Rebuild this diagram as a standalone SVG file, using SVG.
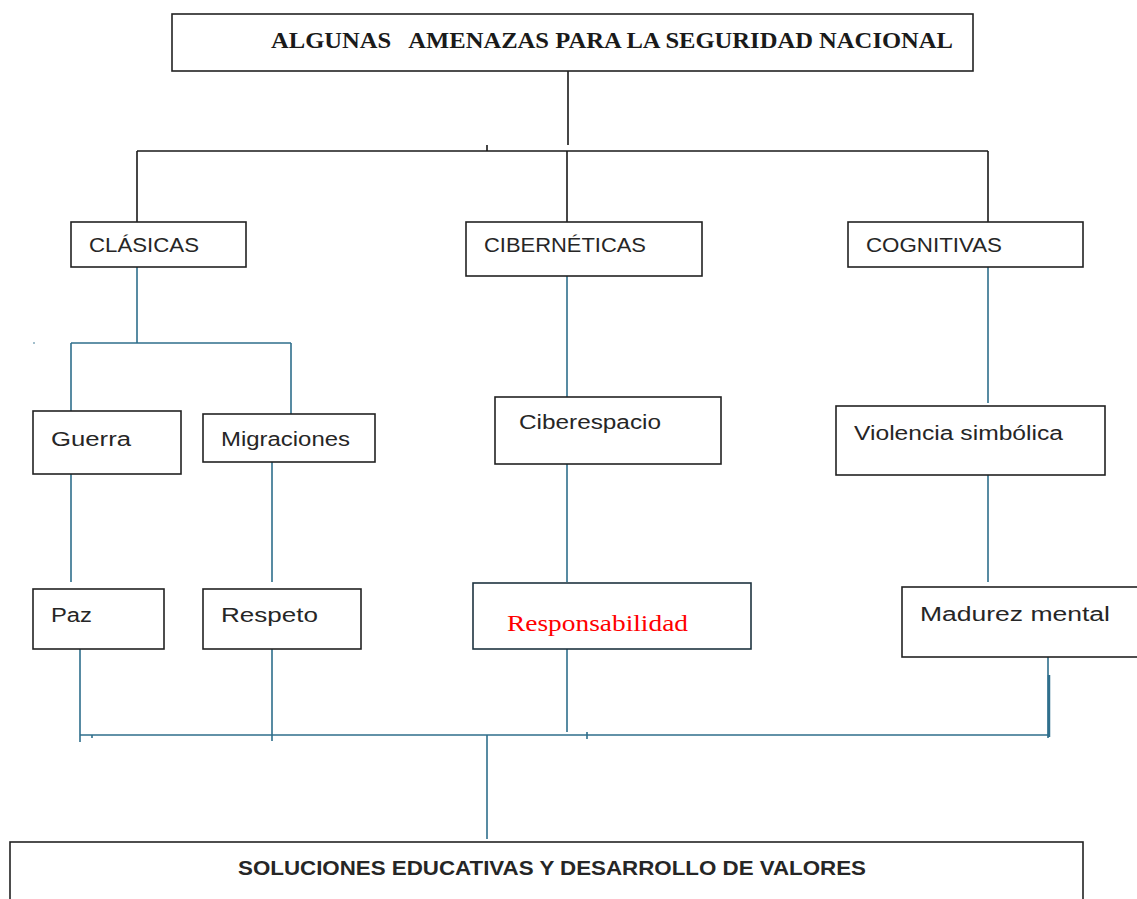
<svg xmlns="http://www.w3.org/2000/svg" width="1137" height="899" viewBox="0 0 1137 899">
<style>
.box{fill:#fff;stroke:#222;stroke-width:1.6}
.t{font-family:"Liberation Sans",Arial,sans-serif;fill:#262626;font-size:20px}
.blk{stroke:#1a1a1a;stroke-width:1.6;fill:none}
.blu{stroke:#2f6f8c;stroke-width:1.6;fill:none}
</style>
<rect width="1137" height="899" fill="#fff"/>
<g id="connectors">
<path class="blk" d="M568 71V145M137 151H988M487 145V151M137 151V222M567 151V222M988 151V222M567 151V157"/>
<path class="blu" d="M137 267V343M71 343H291M71 343V412M291 343V414M567 276V397M988 267V403"/>
<path class="blu" d="M71 474V582M272 462V582M567 461V582M988 475V582"/>
<path class="blu" d="M80 649V742M272 649V741M567 649V732M1048 657V738M80 735H1048M587 732V739M92 735V738M487 735V839"/>
<path d="M1049 675V737" stroke="#2f6f8c" stroke-width="2.5"/>
<circle cx="34" cy="343" r="0.8" fill="#2f6f8c"/>
</g>
<g id="n-title"><rect class="box" x="172" y="14" width="801" height="57"/>
<text x="271" y="48" font-family="Liberation Serif,'Times New Roman',serif" font-weight="bold" font-size="23" fill="#1a1a1a" textLength="682" lengthAdjust="spacingAndGlyphs" xml:space="preserve">ALGUNAS   AMENAZAS PARA LA SEGURIDAD NACIONAL</text></g>
<g id="n-clasicas"><rect class="box" x="71" y="222" width="175" height="45"/><text class="t" x="89" y="252" textLength="110" lengthAdjust="spacingAndGlyphs">CLÁSICAS</text></g>
<g id="n-ciberneticas"><rect class="box" x="466" y="222" width="236" height="54"/><text class="t" x="484" y="252" textLength="162" lengthAdjust="spacingAndGlyphs">CIBERNÉTICAS</text></g>
<g id="n-cognitivas"><rect class="box" x="848" y="222" width="235" height="45"/><text class="t" x="866" y="252" textLength="136" lengthAdjust="spacingAndGlyphs">COGNITIVAS</text></g>
<g id="n-guerra"><rect class="box" x="33" y="411" width="148" height="63"/><text class="t" x="51" y="446" textLength="80" lengthAdjust="spacingAndGlyphs">Guerra</text></g>
<g id="n-migraciones"><rect class="box" x="203" y="414" width="172" height="48"/><text class="t" x="221" y="446" font-size="18" textLength="129" lengthAdjust="spacingAndGlyphs">Migraciones</text></g>
<g id="n-ciberespacio"><rect class="box" x="495" y="397" width="226" height="67"/><text class="t" x="519" y="429" textLength="142" lengthAdjust="spacingAndGlyphs">Ciberespacio</text></g>
<g id="n-violencia"><rect class="box" x="836" y="406" width="269" height="69"/><text class="t" x="854" y="440" textLength="209" lengthAdjust="spacingAndGlyphs">Violencia simbólica</text></g>
<g id="n-paz"><rect class="box" x="33" y="589" width="131" height="60"/><text class="t" x="51" y="622" textLength="41" lengthAdjust="spacingAndGlyphs">Paz</text></g>
<g id="n-respeto"><rect class="box" x="203" y="589" width="158" height="60"/><text class="t" x="221" y="622" textLength="97" lengthAdjust="spacingAndGlyphs">Respeto</text></g>
<g id="n-responsabilidad"><rect class="box" x="473" y="583" width="278" height="66" style="stroke:#1f3440"/><text x="507" y="631" font-family="Liberation Serif,'Times New Roman',serif" font-size="24" fill="#ff0000" textLength="181" lengthAdjust="spacingAndGlyphs">Responsabilidad</text></g>
<g id="n-madurez"><rect class="box" x="902" y="587" width="240" height="70"/><text class="t" x="920" y="621" textLength="190" lengthAdjust="spacingAndGlyphs">Madurez mental</text></g>
<g id="n-soluciones"><rect class="box" x="10" y="842" width="1073" height="70"/><text class="t" x="238" y="875" font-weight="bold" font-size="22" fill="#1a1a1a" textLength="628" lengthAdjust="spacingAndGlyphs">SOLUCIONES EDUCATIVAS Y DESARROLLO DE VALORES</text></g>
</svg>
